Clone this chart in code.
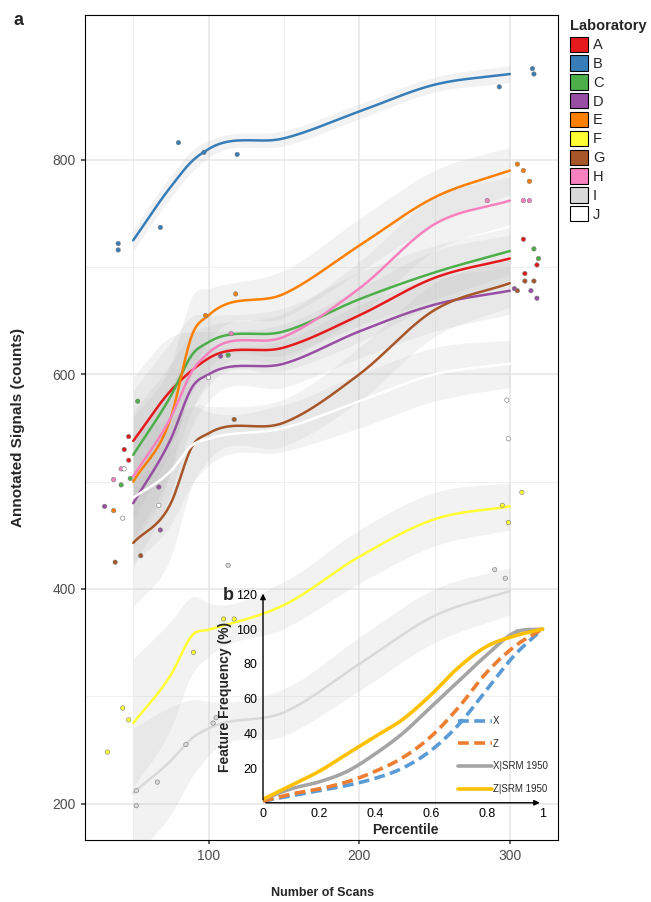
import numpy as np, pandas as pd, matplotlib
matplotlib.use("Agg")
import matplotlib.pyplot as plt, seaborn as sns
from matplotlib.patches import Patch

labs = list("ABCDEFGHIJ")
colors = ["#E41A1C","#377EB8","#4DAF4A","#984EA3","#FF7F00","#FFFF33","#A65628","#F781BF","#D9D9D9","#FFFFFF"]
knots_x = [50, 75, 90, 100, 150, 200, 250, 300]
fits = {
 "A":[538,585,605,615,625,655,690,708],
 "B":[725,775,800,810,820,845,870,880],
 "C":[525,580,620,630,640,670,695,715],
 "D":[480,540,590,600,610,640,665,678],
 "E":[500,560,640,655,675,720,765,790],
 "F":[275,320,358,362,385,430,465,477],
 "G":[443,480,535,545,555,600,660,685],
 "H":[505,560,605,620,635,680,740,762],
 "I":[210,240,262,270,285,330,375,398],
 "J":[485,510,535,540,550,575,600,610],
}
se = {"B":[10,10,10,8,7,7,7,8]}
se_default = [60,50,35,25,22,25,25,22]
pts = {
 "A":[(47,542),(47,520),(44,530),(309,726),(310,694),(318,702)],
 "B":[(40,722),(40,716),(68,737),(80,816),(97,807),(119,805),(293,868),(315,885),(316,880)],
 "C":[(42,497),(48,503),(53,575),(113,618),(316,717),(319,708)],
 "D":[(31,477),(67,495),(68,455),(108,617),(303,680),(314,678),(318,671)],
 "E":[(37,473),(98,655),(118,675),(305,796),(309,790),(313,780)],
 "F":[(33,248),(43,289),(47,278),(90,341),(110,372),(117,372),(295,478),(299,462),(308,490)],
 "G":[(38,425),(55,431),(117,558),(305,678),(310,687),(316,687)],
 "H":[(37,502),(42,512),(115,638),(285,762),(309,762),(313,762)],
 "I":[(52,212),(52,198),(66,220),(85,255),(103,275),(105,280),(113,422),(290,418),(297,410),(305,360)],
 "J":[(44,512),(43,466),(67,478),(100,597),(298,576),(299,540)],
}
pct = [0,.1,.2,.3,.4,.5,.6,.7,.8,.9,1]
cdf = {
 "X":[1,4,7,10,14,20,30,45,65,85,100],
 "Z":[1,5,8,12,18,26,38,55,75,90,100],
 "X|SRM 1950":[2,8,12,18,28,40,55,70,85,98,100],
 "Z|SRM 1950":[2,10,18,28,38,48,62,78,90,96,100],
}

def smooth(xk, yk, n=200):
    xk = np.asarray(xk, float); yk = np.asarray(yk, float)
    m = np.gradient(yk, xk)
    xs = np.linspace(xk[0], xk[-1], n)
    i = np.clip(np.searchsorted(xk, xs) - 1, 0, len(xk)-2)
    h = xk[i+1]-xk[i]; t = (xs-xk[i])/h
    h00=2*t**3-3*t**2+1; h10=t**3-2*t**2+t; h01=-2*t**3+3*t**2; h11=t**3-t**2
    return xs, h00*yk[i]+h10*h*m[i]+h01*yk[i+1]+h11*h*m[i+1]

sns.set_theme(style="whitegrid")
plt.rcParams['font.family'] = ['Liberation Sans', 'DejaVu Sans']
fig = plt.figure(figsize=(6.51, 9.02), dpi=100)
ax = fig.add_axes([0.1306, 0.0687, 0.7266, 0.9147])
rows = []
for lab, c in zip(labs, colors):
    xs, ys = smooth(knots_x, fits[lab])
    _, s = smooth(knots_x, se.get(lab, se_default))
    ax.fill_between(xs, ys-s, ys+s, color="#bbbbbb", alpha=0.18, lw=0, zorder=1)
    rows += [(lab, a, b) for a, b in zip(xs, ys)]
df = pd.DataFrame(rows, columns=["lab","x","y"])
sns.lineplot(data=df, x="x", y="y", hue="lab", palette=dict(zip(labs, colors)),
             lw=1.8, ax=ax, legend=False, zorder=3, estimator=None, sort=False)
pdf = pd.DataFrame([(l, a, b) for l in labs for a, b in pts[l]], columns=["lab","x","y"])
sns.scatterplot(data=pdf, x="x", y="y", hue="lab", palette=dict(zip(labs, colors)),
                s=10, edgecolor="#777777", linewidth=0.4, ax=ax, legend=False, zorder=4)
ax.set_xlim(18, 332); ax.set_ylim(166, 935)
ax.set_xticks([100,200,300]); ax.set_yticks([200,400,600,800])
ax.set_xticks([50,150,250], minor=True); ax.set_yticks([300,500,700], minor=True)
ax.grid(True, which="major", color="#e6e6e6", lw=1.1)
ax.grid(True, which="minor", color="#f0f0f0", lw=0.7)
for sp in ax.spines.values():
    sp.set_visible(True); sp.set_color("black"); sp.set_linewidth(0.8)
ax.tick_params(axis="both", labelsize=10, colors="#4d4d4d", length=3, left=True, bottom=True)
ax.set_xlabel(""); ax.set_ylabel("Annotated Signals (counts)", fontsize=11, fontweight="bold", labelpad=20)
fig.text(0.495, 0.007, "Number of Scans", ha="center", fontsize=9, fontweight="bold")
fig.text(0.02, 0.972, "a", fontsize=13, fontweight="bold")
handles = [Patch(facecolor=c, edgecolor="black", lw=0.8) for c in colors]
leg = fig.legend(handles, labs, title="Laboratory", loc="upper left", bbox_to_anchor=(0.867, 0.985),
                 frameon=False, handlelength=1.25, handleheight=1.25, handletextpad=0.3,
                 labelspacing=0.22, fontsize=10.5, borderaxespad=0, title_fontsize=10.5)
leg.get_title().set_fontweight("bold"); leg._legend_box.align = "left"

ins = fig.add_axes([0.404, 0.110, 0.438, 0.235])
ins.patch.set_alpha(0)
styles = {"X":("#5B9BD5",(0,(3,1.5)),2.6),"Z":("#ED7D31",(0,(3,1.5)),2.6),
          "X|SRM 1950":("#A5A5A5","-",2.6),"Z|SRM 1950":("#FFC000","-",2.6)}
for k in cdf:
    c, ls, lw = styles[k]
    xs, ys = smooth(pct, cdf[k])
    ins.plot(xs, ys, color=c, ls=ls, lw=lw, label=k)
ins.set_xlim(0, 1.02); ins.set_ylim(0, 122)
ins.set_xticks([0,.2,.4,.6,.8,1]); ins.set_xticklabels(["0","0.2","0.4","0.6","0.8","1"])
ins.set_yticks([20,40,60,80,100,120])
ins.grid(False)
for s in ins.spines: ins.spines[s].set_visible(False)
ins.annotate("", xy=(0,122), xytext=(0,0), arrowprops=dict(arrowstyle="-|>", color="black", lw=1, mutation_scale=8), annotation_clip=False)
ins.annotate("", xy=(1.0,0), xytext=(0,0), arrowprops=dict(arrowstyle="-|>", color="black", lw=1, mutation_scale=8), annotation_clip=False)
ins.tick_params(length=0, labelsize=9, colors="black", pad=4)
ins.set_xlabel("Percentile", fontsize=10, fontweight="bold", labelpad=2)
ins.set_ylabel("Feature Frequency (%)", fontsize=10, fontweight="bold", labelpad=3)
ins.legend(loc="lower right", bbox_to_anchor=(1.03, 0.0), frameon=False, fontsize=7,
           handlelength=3.5, handletextpad=0.1, labelspacing=1.3)
fig.text(0.343, 0.335, "b", fontsize=13, fontweight="bold")
fig.savefig("out.png", dpi=100)
